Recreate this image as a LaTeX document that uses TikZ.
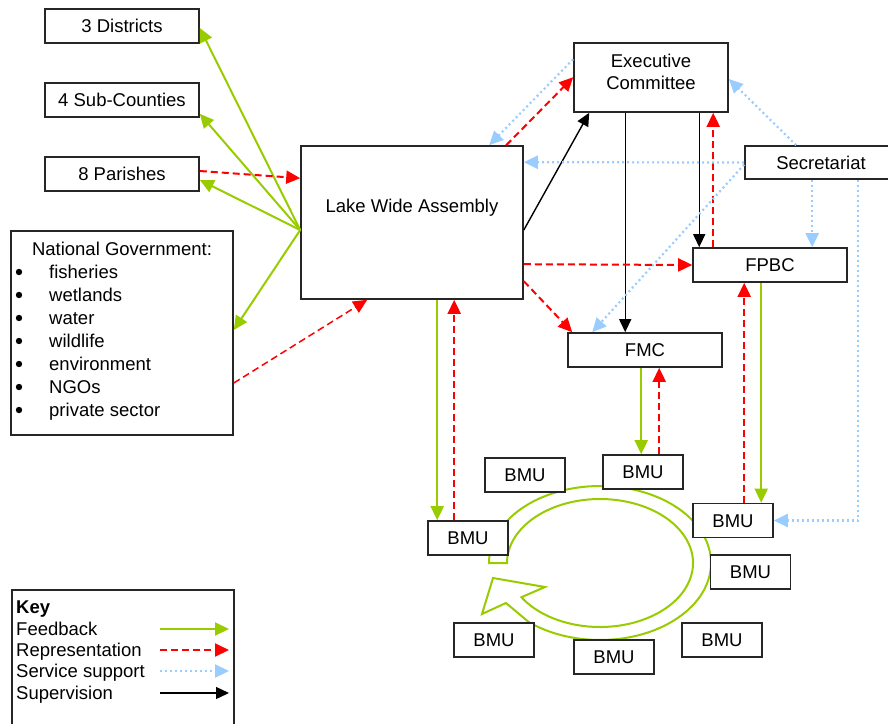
\documentclass[tikz,border=0pt]{standalone}
\usepackage{fontspec}
\setmainfont{Liberation Sans}
\usetikzlibrary{arrows.meta}
\definecolor{fbgreen}{RGB}{153,204,0}
\definecolor{svcblue}{RGB}{153,204,255}
\begin{document}
\begin{tikzpicture}[x=1pt,y=-1pt,
  every node/.style={font=\fontsize{18.5pt}{22pt}\selectfont, text height=13.2pt, text depth=0pt},
  box/.style={draw=black!85, line width=1.6pt, fill=white, inner sep=0pt},
  bmu/.style={box, minimum width=80pt, minimum height=34pt},
  wide/.style={box, minimum width=154pt, minimum height=34pt},
  tip/.style={-{Triangle[length=14pt,width=13pt]}},
  fb/.style={draw=fbgreen, line width=2pt, tip},
  rep/.style={draw=red, line width=2pt, dash pattern=on 7pt off 4pt, tip},
  svc/.style={draw=svcblue, line width=2.2pt, dash pattern=on 2pt off 3pt, tip},
  sup/.style={draw=black, line width=1.4pt, -{Triangle[length=13pt,width=12pt]}},
  plain/.style={inner sep=0pt}
]
\useasboundingbox (0,0) rectangle (888,723);

% circular feedback arrow around the BMUs
\draw[fbgreen, line width=2pt, line join=miter, fill=white]
  (489,563) arc[start angle=180, end angle=490, x radius=111, y radius=77]
  -- (506,603) -- (482,614) -- (493,578) -- (545,587) -- (521.4,597.2)
  arc[start angle=507.7, end angle=180, x radius=93, y radius=64] -- cycle;

% boxes
\node[wide] (d3) at (122,26) {3 Districts};
\node[wide] (sc4) at (122,100) {4 Sub-Counties};
\node[wide] (p8) at (122,174) {8 Parishes};
\node[box, minimum width=222pt, minimum height=204pt] (ng) at (122,333) {};
\node[plain, anchor=base] at (122,255) {National Government:};
\foreach \t [count=\i from 0] in {fisheries,wetlands,water,wildlife,environment,NGOs,private sector}{
  \fill (19,272+23*\i) circle[radius=3.2pt];
  \node[plain, anchor=base west] at (49,278+23*\i) {\t};
}
\node[box, minimum width=222pt, minimum height=153pt] (lwa) at (412,222.5) {};
\node[plain] at (412,206) {Lake Wide Assembly};
\node[box, minimum width=154pt, minimum height=69pt] (ec) at (651,77.5) {};
\node[plain, align=center, text height=, text depth=] at (651,71.8) {Executive\\Committee};
\node[box, minimum width=160pt, minimum height=33pt] (sec) at (825,162.5) {};
\node[plain] at (821,162.5) {Secretariat};
\node[wide] (fpbc) at (770,265) {FPBC};
\node[wide] (fmc) at (645,350) {FMC};
\node[bmu] (b1) at (525,475) {BMU};
\node[bmu] (b2) at (643,472) {BMU};
\node[bmu] (bl) at (468,538) {BMU};
\node[bmu] (br1) at (733,520.5) {BMU};
\node[bmu] (br2) at (750.5,572) {BMU};
\node[bmu] (bbl) at (494,640) {BMU};
\node[bmu] (bb) at (614,657) {BMU};
\node[bmu] (bbr) at (722,640) {BMU};

% feedback from the assembly to local government and ministries
\coordinate (hub) at ([yshift=-7.5pt]lwa.west);
\draw[fb] (hub) -- ([yshift=-2pt]d3.east);
\draw[fb] (hub) -- ([yshift=4pt]sc4.south east);
\draw[fb] (hub) -- ([yshift=-6pt]p8.east);
\draw[fb] (hub) -- ([yshift=3pt]ng.east);

% representation into the assembly
\draw[rep] ([yshift=3pt]p8.east) -- ([yshift=-33pt]lwa.north west);
\draw[rep, line width=1.5pt] ([yshift=-50pt]ng.east) -- ([xshift=67pt]lwa.south west);

% assembly and executive committee
\draw[svc] ([yshift=-17pt]ec.north west) -- ([xshift=189pt]lwa.north west);
\draw[rep] ([xshift=206pt]lwa.north west) -- ([yshift=-35pt]ec.north west);
\draw[sup] ([yshift=-7.5pt]lwa.east) -- ([xshift=16pt]ec.south west);

% executive committee down to FMC and FPBC
\draw[sup] ([xshift=52pt]ec.south west) -- ([xshift=58pt]fmc.north west);
\draw[sup] ([xshift=126pt]ec.south west) -- ([xshift=7pt]fpbc.north west);
\draw[rep] ([xshift=21pt]fpbc.north west) -- ([xshift=140pt]ec.south west);

% secretariat service support
\draw[svc] ([xshift=52pt]sec.north west) -- ([yshift=-1.5pt]ec.east);
\draw[svc] (sec.west) -- ([yshift=-17pt]lwa.north east);
\draw[svc] ([yshift=-2pt]sec.west) -- ([xshift=25pt]fmc.north west);
\draw[svc] ([xshift=68pt]sec.south west) -- ([xshift=120pt]fpbc.north west);
\draw[svc] ([xshift=114pt]sec.south west) |- (br1.east);

% assembly representation to FPBC and FMC
\draw[rep] ([yshift=-119pt]lwa.north east) -- (fpbc.west);
\draw[rep] ([yshift=-136pt]lwa.north east) -- ([xshift=5pt]fmc.north west);

% links down to the BMUs
\draw[fb] ([xshift=137pt]lwa.south west) -- ([xshift=10pt]bl.north west);
\draw[rep] ([xshift=27pt]bl.north west) -- ([xshift=154pt]lwa.south west);
\draw[fb] ([xshift=74pt]fmc.south west) -- ([xshift=39pt]b2.north west);
\draw[rep] ([xshift=57pt]b2.north west) -- ([xshift=92pt]fmc.south west);
\draw[rep] ([xshift=52pt]br1.north west) -- ([xshift=52pt]fpbc.south west);
\draw[fb] ([xshift=69pt]fpbc.south west) -- ([xshift=69pt]br1.north west);

% key
\node[box, minimum width=222pt, minimum height=150pt, anchor=north west] (key) at (11,589) {};
\node[plain, anchor=west] at (16,607) {\bfseries Key};
\node[plain, anchor=west] at (16,629) {Feedback};
\node[plain, anchor=west] at (16,650) {Representation};
\node[plain, anchor=west] at (16,671) {Service support};
\node[plain, anchor=west] at (16,693) {Supervision};
\coordinate (ka1) at (160,629); \coordinate (kb1) at (229,629);
\coordinate (ka2) at (160,650); \coordinate (kb2) at (229,650);
\coordinate (ka3) at (160,671); \coordinate (kb3) at (229,671);
\coordinate (ka4) at (160,693); \coordinate (kb4) at (229,693);
\draw[fb] (ka1) -- (kb1);
\draw[rep] (ka2) -- (kb2);
\draw[svc] (ka3) -- (kb3);
\draw[sup] (ka4) -- (kb4);
\end{tikzpicture}
\end{document}
